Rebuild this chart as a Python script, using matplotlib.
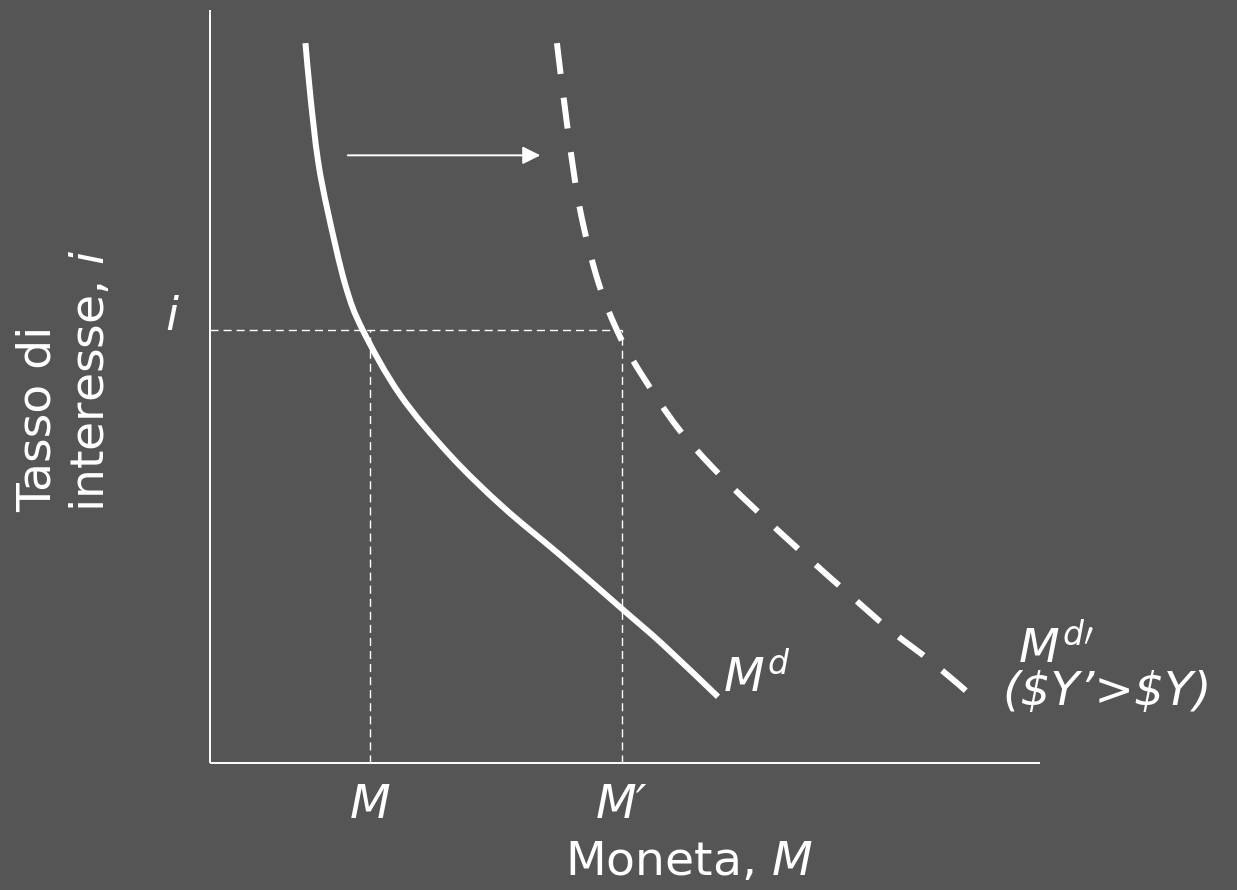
import matplotlib
matplotlib.use("Agg")
import matplotlib.pyplot as plt
import numpy as np
from matplotlib.path import Path
from matplotlib.patches import PathPatch

# curve points (axis units 0..10)
md_x = [1.15, 1.21, 1.30, 1.42, 1.63, 1.84, 2.29, 2.89, 3.53, 4.22,
        4.94, 5.46, 6.12]
md_y = [9.56, 8.85, 8.01, 7.32, 6.35, 5.75, 4.89, 4.09, 3.40, 2.76,
        2.07, 1.57, 0.88]
md2_x = [4.18, 4.31, 4.46, 4.68, 4.94, 5.24, 5.63, 6.06, 6.54, 7.19,
         7.68, 8.19, 8.71, 9.19]
md2_y = [9.56, 8.41, 7.34, 6.38, 5.66, 5.09, 4.46, 3.92, 3.40, 2.74,
         2.26, 1.77, 1.33, 0.88]

i_level = 5.75
m_vals = [1.93, 4.96]
m_labels = ["M", "M\u2032"]
shift_y = 8.07
shift_from, shift_to = 1.66, 3.98

bg = "#555555"
plt.rcParams["font.family"] = ["DejaVu Sans"]
plt.rcParams["mathtext.fontset"] = "dejavusans"


def smooth_path(xs, ys):
    # bezier path through the points (catmull-rom tangents)
    pts = np.column_stack([xs, ys])
    verts = [pts[0]]
    codes = [Path.MOVETO]
    n = len(pts)
    for k in range(n - 1):
        p0 = pts[max(k - 1, 0)]
        p1, p2 = pts[k], pts[k + 1]
        p3 = pts[min(k + 2, n - 1)]
        verts += [p1 + (p2 - p0) / 6, p2 - (p3 - p1) / 6, p2]
        codes += [Path.CURVE4] * 3
    return Path(verts, codes)


fig = plt.figure(figsize=(12.37, 8.90), dpi=100, facecolor=bg)
ax = fig.add_axes([210 / 1237, 127 / 890, 830 / 1237, 753 / 890])
ax.set_facecolor(bg)
ax.set_xlim(0, 10)
ax.set_ylim(0, 10)
for s in ax.spines.values():
    s.set_visible(False)
ax.set_xticks([])
ax.set_yticks([])

# axes lines
ax.plot([0, 0], [0, 10], color="white", lw=1.4, clip_on=False, solid_capstyle="butt")
ax.plot([0, 10], [0, 0], color="white", lw=1.4, clip_on=False, solid_capstyle="butt")

# guide lines
thin = dict(color="white", lw=1.0, linestyle=(0, (5.8, 3.6)))
ax.plot([0, m_vals[1]], [i_level, i_level], **thin)
for m in m_vals:
    ax.plot([m, m], [0, i_level], **thin)

# demand curves
ax.add_patch(PathPatch(smooth_path(md_x, md_y), fill=False, edgecolor="white",
                       lw=4.3, capstyle="butt", joinstyle="round"))
ax.add_patch(PathPatch(smooth_path(md2_x, md2_y), fill=False, edgecolor="white",
                       lw=4.3, linestyle=(0, (5.2, 4.0)), capstyle="butt"))

# shift arrow
ax.annotate("", xy=(shift_to, shift_y), xytext=(shift_from, shift_y),
            arrowprops=dict(arrowstyle="-|>", color="white", lw=1.4,
                            mutation_scale=27, shrinkA=0, shrinkB=0))

fs = 34
ax.text(-0.46, 5.91, "i", color="white", fontsize=fs, style="italic",
        ha="center", va="center")
for m, lab in zip(m_vals, m_labels):
    ax.text(m, -0.56, lab, color="white", fontsize=fs, style="italic",
            ha="center", va="center")

ax.text(6.18, 1.14, r"$M^{d}$", color="white", fontsize=fs, ha="left",
        va="center")
ax.text(9.73, 1.53, r"$M^{d\prime}$", color="white", fontsize=fs, ha="left",
        va="center")
ax.text(9.55, 0.94, "(\\$Y\u2019>\\$Y)", color="white", fontsize=fs,
        style="italic", ha="left", va="center")

fig.text(689 / 1237, 1 - 862 / 890, "Moneta, $\\mathit{M}$", color="white",
         fontsize=fs, ha="center", va="center")

fig.text(65 / 1237, 1 - 512 / 890, "Tasso di\ninteresse, $\\mathit{i}$",
         color="white", fontsize=fs, rotation=90, ha="center", va="bottom",
         multialignment="left", linespacing=1.25)

fig.savefig("out.png", dpi=100, facecolor=bg)
